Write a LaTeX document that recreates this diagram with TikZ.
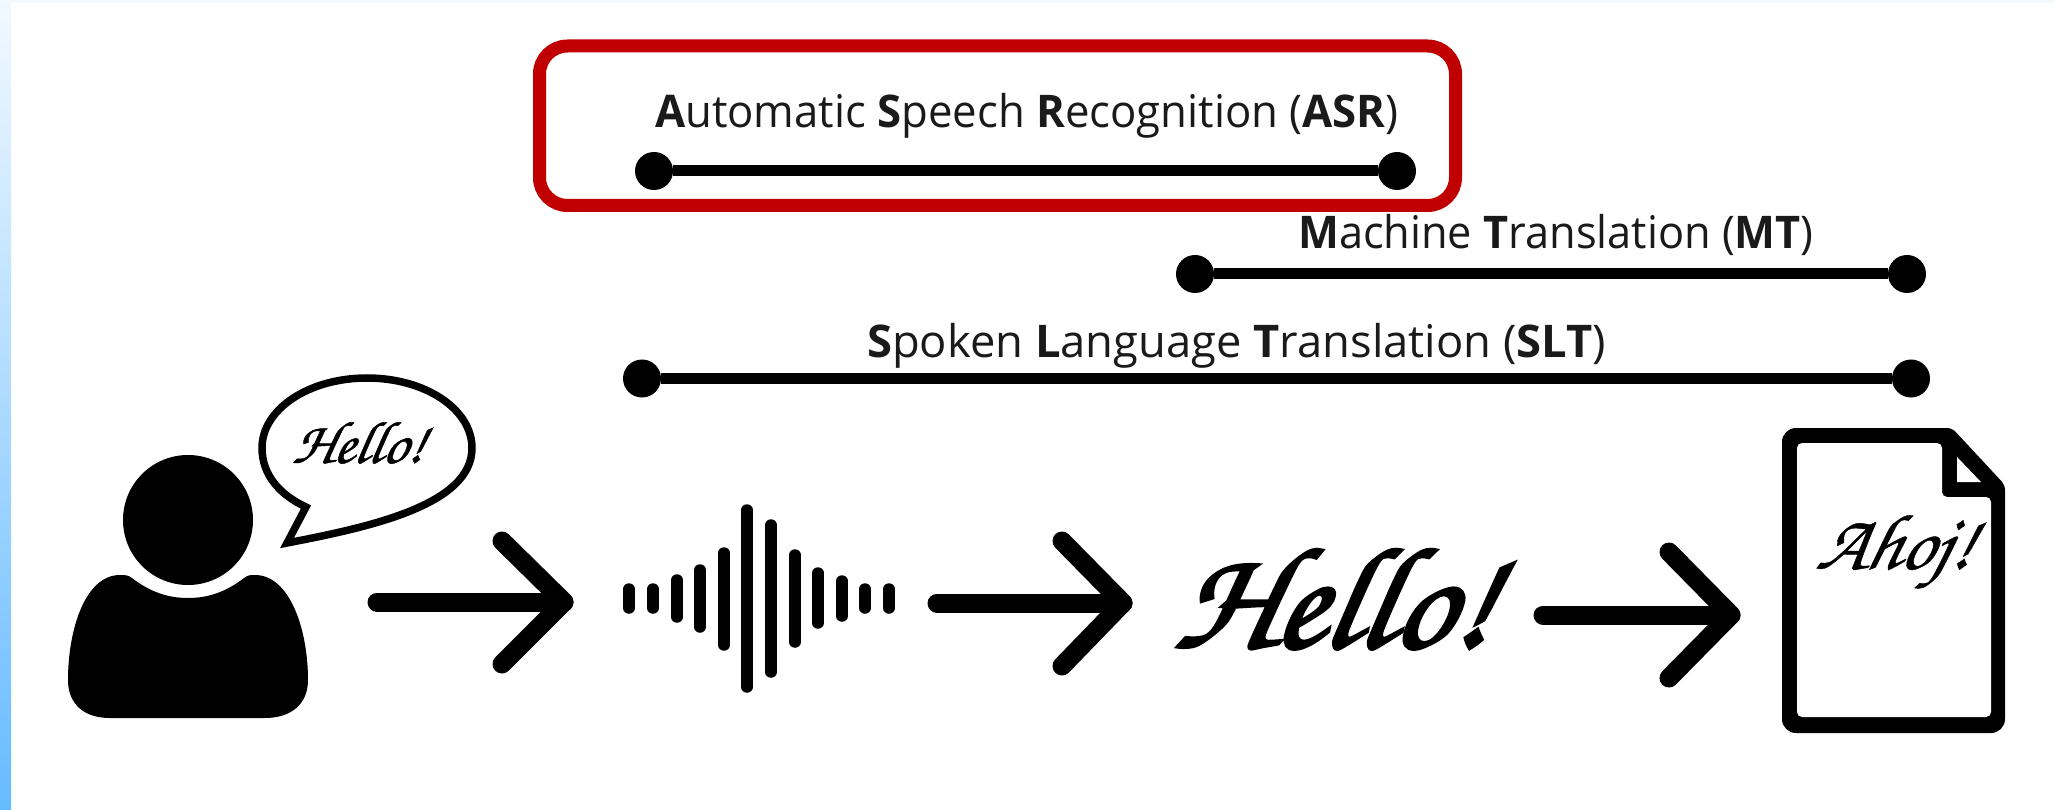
\documentclass[tikz,border=0pt]{standalone}
\usepackage{fontspec}
\usepackage{graphicx}
\setmainfont{Open Sans}
\newcommand{\scriptface}{\fontencoding{T1}\fontfamily{pzc}\fontseries{mb}\fontshape{it}\selectfont}
\newcommand{\heavytext}[2]{\special{pdf:code q 2 Tr #1 w}#2\special{pdf:code Q}}
\definecolor{boxred}{HTML}{C00000}
\definecolor{bartop}{HTML}{F2F9FF}
\definecolor{barbot}{HTML}{66BBFF}
\definecolor{labelink}{HTML}{1A1A1A}
\tikzset{
  x=1pt,y=-1pt,
  dotend/.style={circle,fill=black,inner sep=0pt,minimum size=38pt},
  spanline/.style={line width=11pt,black},
  flowarrow/.style={line width=19pt,line cap=round,line join=round,black},
  spanlabel/.style={anchor=base west,inner sep=0pt,font=\fontsize{45}{54}\selectfont,text=labelink},
  scriptlabel/.style={inner sep=0pt,text=black,transform shape},
  wavebar/.style={line width=11.5pt,line cap=round,black}
}
\begin{document}
\begin{tikzpicture}
\useasboundingbox (0,0) rectangle (2054,810);
\fill[white] (0,0) rectangle (2054,810);
\shade[top color=bartop,bottom color=barbot,shading angle=0] (0,0) rectangle (11,810);
\fill[bartop] (0,0) rectangle (2054,3);

% ASR box
\draw[boxred,line width=13pt,rounded corners=28pt] (539.5,46) rectangle (1455.5,205.5);

% span labels
\node[spanlabel] (asrlabel) at (655,128) {\scalebox{.971}[1]{\textbf{A}utomatic \textbf{S}peech \textbf{R}ecognition (\textbf{ASR})}};
\node[spanlabel] (mtlabel) at (1298,249) {\scalebox{.963}[1]{\textbf{M}achine \textbf{T}ranslation (\textbf{MT})}};
\node[spanlabel] (sltlabel) at (867,357) {\scalebox{1.007}[1]{\textbf{S}poken \textbf{L}anguage \textbf{T}ranslation (\textbf{SLT})}};

% spans
\node[dotend] (asrL) at (654,171) {};
\node[dotend] (asrR) at (1397,171) {};
\draw[spanline] (asrL) -- (asrR);
\node[dotend] (mtL) at (1195,274) {};
\node[dotend] (mtR) at (1907,274) {};
\draw[spanline] (mtL) -- (mtR);
\node[dotend] (sltL) at (642,378.5) {};
\node[dotend] (sltR) at (1911,378.5) {};
\draw[spanline] (sltL) -- (sltR);

% person
\fill[black] (188,520) ellipse [x radius=65,y radius=65];
\fill[black] (132,578)
  .. controls (150,592) and (168,598) .. (188,598)
  .. controls (208,598) and (226,592) .. (244,578)
  .. controls (248,575) and (250,575) .. (255,575)
  .. controls (290,575) and (308,630) .. (308,680)
  .. controls (308,705) and (290,718) .. (265,718)
  -- (110,718)
  .. controls (85,718) and (68,705) .. (68,680)
  .. controls (68,630) and (85,575) .. (120,575)
  .. controls (125,575) and (128,575) .. (132,578) -- cycle;

% speech bubble
\draw[black,line width=7.5pt,fill=white,line join=miter] (306,507) -- (287,543)
  .. controls (370,527) and (472,505) .. (472,448)
  .. controls (472,409) and (425,378) .. (367,378)
  .. controls (309,378) and (262,409) .. (262,448)
  .. controls (262,475) and (280,495) .. (306,507) -- cycle;
\begin{scope}[shift={(361,442)},xslant=.2]
\node[scriptlabel,font=\scriptface\fontsize{60}{72}\selectfont] (hellosmall) at (0,0) {\heavytext{.5}{Hello!}};
\end{scope}

% flow arrows
\coordinate (a1s) at (377,602);
\coordinate (a1t) at (564,602);
\coordinate (a1u) at (502,541);
\coordinate (a1d) at (502,664);
\draw[flowarrow] (a1s) -- (a1t);
\draw[flowarrow] (a1u) -- (a1t) -- (a1d);

\coordinate (a2s) at (937,603);
\coordinate (a2t) at (1123,603);
\coordinate (a2u) at (1062,541);
\coordinate (a2d) at (1062,666);
\draw[flowarrow] (a2s) -- (a2t);
\draw[flowarrow] (a2u) -- (a2t) -- (a2d);

\coordinate (a3s) at (1543,615);
\coordinate (a3t) at (1731,615);
\coordinate (a3u) at (1669,552);
\coordinate (a3d) at (1669,678);
\draw[flowarrow] (a3s) -- (a3t);
\draw[flowarrow] (a3u) -- (a3t) -- (a3d);

% waveform
\foreach \xx/\ya/\yb in {629/589/608,653/589/608,677/580/617,700/570/627,724/553/645,747/510/687,771/525/672,795/555/642,818/573/623,842/581/616,865/589/608,889/589/608}
  \draw[wavebar] (\xx,\ya) -- (\xx,\yb);

% large text
\begin{scope}[shift={(1340,597)},xslant=.2]
\node[scriptlabel,font=\scriptface\fontsize{145}{174}\selectfont] (hellobig) at (0,0) {\heavytext{3}{Hello!}};
\end{scope}

% document
\fill[black] (1900,428) [rounded corners=14pt] -- (1782,428) -- (1782,733) -- (2005,733) [rounded corners=5pt] -- (2005,485) -- (1952,428) -- cycle;
\fill[white,rounded corners=5pt] (1797,443) -- (1942,443) -- (1942,497) -- (1991,497) -- (1991,717) -- (1797,717) -- cycle;
\fill[white] (1957,457) -- (1957,482) -- (1981,482) -- cycle;
\begin{scope}[shift={(1896,553)},xslant=.25]
\node[scriptlabel,font=\scriptface\fontsize{79}{95}\selectfont] (ahoj) at (0,0) {\heavytext{.4}{Ahoj!}};
\end{scope}
\end{tikzpicture}
\end{document}
